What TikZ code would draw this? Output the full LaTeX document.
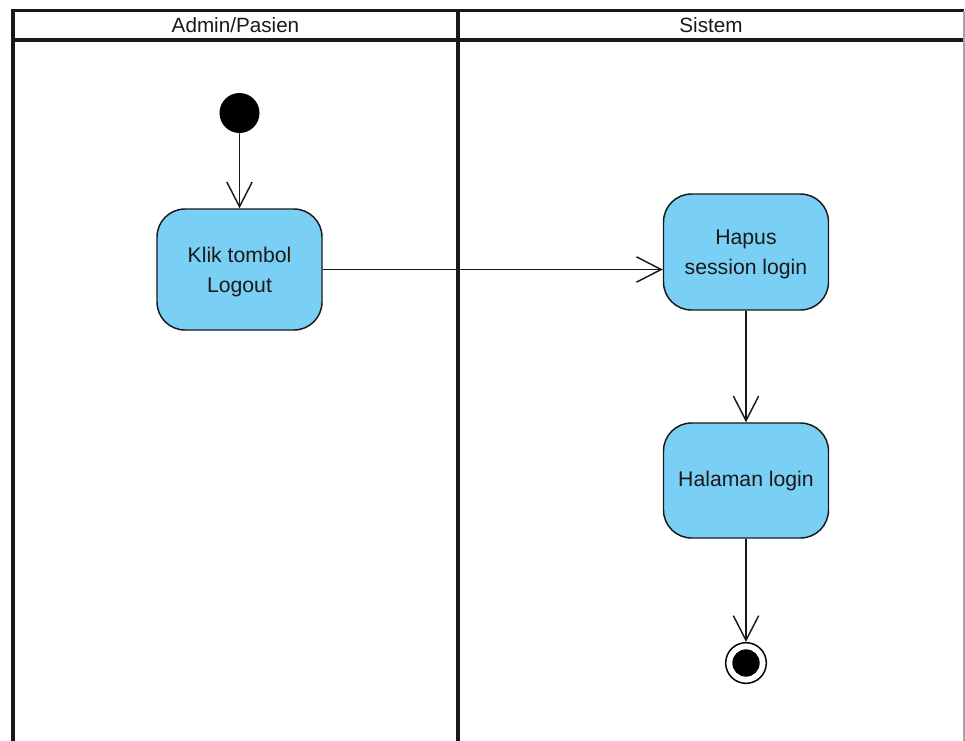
\documentclass[tikz,border=0pt]{standalone}
\usepackage{fontspec}
\setmainfont{Liberation Sans}
\usetikzlibrary{arrows.meta}

\definecolor{actfill}{RGB}{122,207,245}
\definecolor{inkc}{RGB}{25,25,25}

\tikzset{
  lane/.style={line width=2.3pt, draw=inkc},
  action/.style={draw=inkc, line width=1.1pt, fill=actfill, rounded corners=21pt,
    minimum width=123.75pt, minimum height=87pt, inner sep=0pt},
  actiontext/.style={align=center, text=inkc, inner sep=0pt,
    font=\fontsize{15.9}{22}\selectfont},
  lanehead/.style={text=inkc, font=\fontsize{15.5}{18}\selectfont},
  flow/.style={draw=inkc, line width=1.1pt,
    -{Straight Barb[length=18.5pt, width=19pt, line width=1.1pt]}},
}

\begin{document}
\begin{tikzpicture}[x=0.75pt, y=-0.75pt]
  \useasboundingbox (0,0) rectangle (965,740);

  % swimlane frame
  \draw[lane] (13,742) -- (13,10.5) -- (964,10.5);
  \draw[lane] (13,40) -- (964,40);
  \draw[lane] (458,10.5) -- (458,742);
  \draw[draw=gray!70, line width=1.1pt] (964,10.5) -- (964,742);

  % lane headings
  \node[lanehead] (hAdmin) at (235.5,25.5) {Admin/Pasien};
  \node[lanehead] (hSistem) at (711,25.5) {Sistem};

  % initial node
  \node[circle, fill=black, minimum size=30pt, inner sep=0pt] (start) at (239.5,113) {};

  % actions
  \node[action, minimum height=90.75pt] (klik) at (239.5,269.5) {};
  \node[actiontext] (klikText) at (239.5,272) {Klik tombol\\Logout};
  \node[action] (hapus) at (746,252) {};
  \node[actiontext] (hapusText) at (746,254.5) {Hapus\\session login};
  \node[action, minimum height=86.25pt] (halaman) at (746,480.5) {};
  \node[actiontext] (halamanText) at (746,481.5) {Halaman login};

  % final node
  \node[circle, draw=black, line width=1.1pt, minimum size=30.5pt, inner sep=0pt] (final) at (746,663) {};
  \node[circle, fill=black, minimum size=20.5pt, inner sep=0pt] (finalcore) at (final.center) {};

  % control flows
  \draw[flow] (start) -- (klik);
  \draw[flow] (klik.east) -- (klik.east -| hapus.west);
  \draw[flow] (hapus) -- (halaman);
  \draw[flow] (halaman) -- (final);
\end{tikzpicture}
\end{document}
